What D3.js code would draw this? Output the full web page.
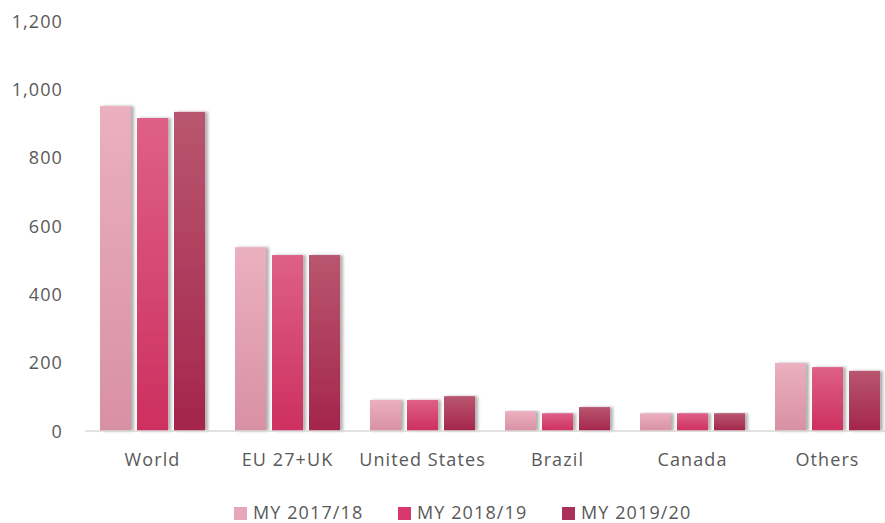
<!DOCTYPE html>
<html>
<head>
<meta charset="utf-8">
<script src="https://cdn.jsdelivr.net/npm/d3@7"></script>
<style>
  body { margin: 0; background: #fff; }
  svg text { font-family: "Open Sans", "DejaVu Sans", sans-serif; fill: #595959; letter-spacing: 1.1px; }
</style>
</head>
<body>
<div id="chart"></div>
<script>
var categories = ['World', 'EU 27+UK', 'United States', 'Brazil', 'Canada', 'Others'];
var seriesNames = ['MY 2017/18', 'MY 2018/19', 'MY 2019/20'];
var my1718 = [951, 538, 91, 58, 52, 199];
var my1819 = [916, 515, 91, 52, 52, 187];
var my1920 = [934, 515, 102, 70, 52, 176];
var yTicks = [0, 200, 400, 600, 800, 1000, 1200];

var seriesValues = [my1718, my1819, my1920];
// top / bottom gradient colours and legend swatch per series
var palette = [
  { top: '#ebb0c0', bottom: '#d890a4', key: '#e8a7b9' },
  { top: '#de6088', bottom: '#cd2f5f', key: '#d9386c' },
  { top: '#b9566f', bottom: '#a4254c', key: '#ab3058' }
];

var width = 885, height = 523;
var margin = { left: 85, top: 21, bottom: 92 };
var plotH = height - margin.top - margin.bottom;

var svg = d3.select('#chart').append('svg')
  .attr('width', width)
  .attr('height', height);

var defs = svg.append('defs');
palette.forEach(function(p, i) {
  var g = defs.append('linearGradient')
    .attr('id', 'grad' + i)
    .attr('x1', '0%').attr('y1', '0%')
    .attr('x2', '0%').attr('y2', '100%');
  g.append('stop').attr('offset', '0%').attr('stop-color', p.top);
  g.append('stop').attr('offset', '100%').attr('stop-color', p.bottom);
});
var shadow = defs.append('filter').attr('id', 'shadow')
  .attr('x', '-20%').attr('y', '-5%').attr('width', '160%').attr('height', '110%');
shadow.append('feDropShadow')
  .attr('dx', 3).attr('dy', 0).attr('stdDeviation', 1.5)
  .attr('flood-color', '#000').attr('flood-opacity', 0.3);

// step of 135px per category, the last group runs a little past the edge
var x0 = d3.scaleBand().domain(categories)
  .range([margin.left, margin.left + 810])
  .paddingInner(0.222).paddingOuter(0.111);
var x1 = d3.scaleBand().domain(d3.range(seriesNames.length))
  .range([0, x0.bandwidth()])
  .paddingInner(0.162);
var y = d3.scaleLinear().domain([0, 1200]).range([margin.top + plotH, margin.top]);

// y axis labels
var yAxis = d3.axisLeft(y).tickValues(yTicks).tickSize(0).tickPadding(0)
  .tickFormat(d3.format(','));
svg.append('g')
  .attr('transform', 'translate(63,0)')
  .call(yAxis)
  .call(function(g) { g.select('.domain').remove(); })
  .selectAll('text')
  .attr('font-size', 18)
  .attr('dy', '0.35em')
  .style('fill', '#595959');

// bars
var groups = svg.append('g').selectAll('g')
  .data(categories)
  .enter().append('g')
  .attr('transform', function(d) { return 'translate(' + x0(d) + ',0)'; });

groups.selectAll('rect')
  .data(function(d, ci) {
    return seriesValues.map(function(vals, si) { return { s: si, v: vals[ci] }; });
  })
  .enter().append('rect')
  .attr('x', function(d) { return x1(d.s); })
  .attr('y', function(d) { return y(d.v); })
  .attr('width', x1.bandwidth())
  .attr('height', function(d) { return y(0) - y(d.v); })
  .attr('fill', function(d) { return 'url(#grad' + d.s + ')'; })
  .attr('filter', 'url(#shadow)');

// x axis
var xAxis = d3.axisBottom(x0).tickSize(0).tickPadding(22);
svg.append('g')
  .attr('transform', 'translate(0,' + y(0) + ')')
  .call(xAxis)
  .call(function(g) {
    g.select('.domain').attr('stroke', '#d9d9d9').attr('stroke-width', 1.5)
      .attr('d', 'M' + margin.left + ',0H' + width);
  })
  .selectAll('text')
  .attr('font-size', 18)
  .style('fill', '#595959');

// legend
var legendX = [234, 398, 562];
var legend = svg.append('g').selectAll('g')
  .data(seriesNames)
  .enter().append('g')
  .attr('transform', function(d, i) { return 'translate(' + legendX[i] + ',513)'; });
legend.append('rect')
  .attr('x', 0).attr('y', -6)
  .attr('width', 13).attr('height', 13)
  .attr('fill', function(d, i) { return palette[i].key; });
legend.append('text')
  .attr('x', 19).attr('dy', '0.35em')
  .attr('font-size', 18)
  .text(function(d) { return d; });
</script>
</body>
</html>
